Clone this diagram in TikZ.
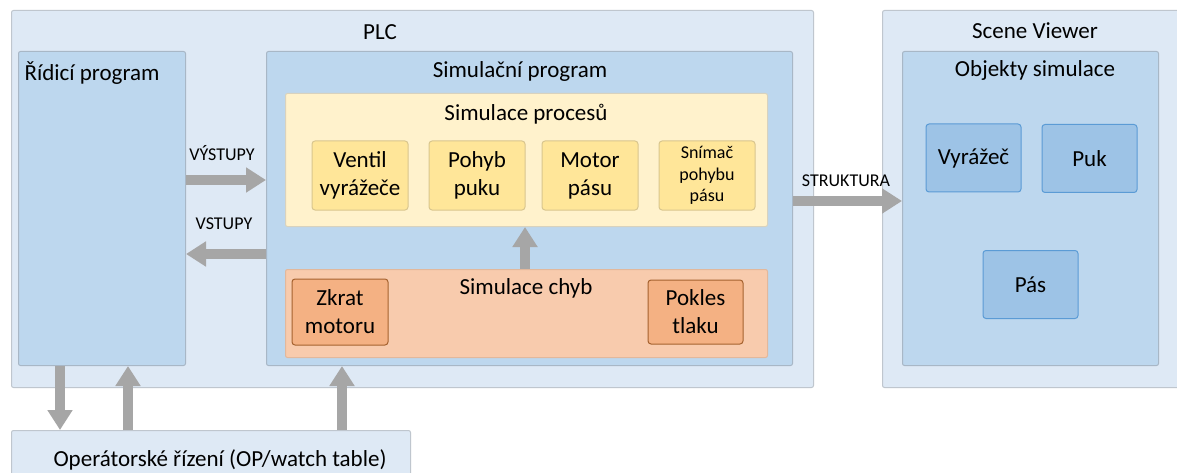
\documentclass[tikz,border=0pt]{standalone}
\usepackage{fontspec}
\setmainfont{Carlito}
\usetikzlibrary{arrows.meta}
\definecolor{outerfill}{HTML}{DEE9F5}
\definecolor{outerdraw}{HTML}{BFC6CE}
\definecolor{midfill}{HTML}{BDD7EE}
\definecolor{middraw}{HTML}{A8B7C6}
\definecolor{yelfill}{HTML}{FFF2CC}
\definecolor{yeldraw}{HTML}{D8D2BE}
\definecolor{yelbox}{HTML}{FFE699}
\definecolor{yelboxdraw}{HTML}{D9C68E}
\definecolor{orfill}{HTML}{F8CBAD}
\definecolor{ordraw}{HTML}{E2B89C}
\definecolor{orbox}{HTML}{F4B183}
\definecolor{orboxdraw}{HTML}{A5622F}
\definecolor{objfill}{HTML}{9DC3E6}
\definecolor{objdraw}{HTML}{5B9BD5}
\definecolor{arrowgray}{HTML}{A6A6A6}
\tikzset{
  box/.style={draw, line width=1pt, rounded corners=2pt, anchor=north west, inner sep=0pt},
  outerbox/.style={box, fill=outerfill, draw=outerdraw},
  midbox/.style={box, fill=midfill, draw=middraw},
  procbox/.style={box, fill=yelfill, draw=yeldraw},
  errbox/.style={box, fill=orfill, draw=ordraw},
  bigfont/.style={font=\fontsize{23}{28}\selectfont},
  itembox/.style={draw=yelboxdraw, fill=yelbox, line width=1pt, rounded corners=3pt, inner sep=0pt,
    minimum width=96pt, minimum height=69pt, align=center, bigfont},
  faultbox/.style={draw=orboxdraw, fill=orbox, line width=1pt, rounded corners=3pt, inner sep=0pt,
    minimum width=96pt, minimum height=66pt, align=center, bigfont},
  objbox/.style={draw=objdraw, fill=objfill, line width=1pt, rounded corners=3pt, inner sep=0pt,
    minimum width=95pt, minimum height=68pt, bigfont},
  title/.style={bigfont, inner sep=0pt},
  small/.style={font=\fontsize{18}{22}\selectfont, inner sep=0pt},
  flow/.style={draw=arrowgray, line width=10pt,
    -{Triangle[width=24pt,length=20pt,fill=arrowgray]}},
}
\begin{document}
\begin{tikzpicture}[x=1pt,y=-1pt]
\useasboundingbox[fill=white] (0,0) rectangle (1177,473);

% PLC and its blocks
\node[outerbox, minimum width=802pt, minimum height=377pt] (plc) at (11,10) {};
\node[title] (plcl) at (380,32) {PLC};
\node[midbox, minimum width=167pt, minimum height=314pt] (rid) at (18,51) {};
\node[title] (ridl) at (92,73) {Řídicí program};
\node[midbox, minimum width=526pt, minimum height=314pt] (sim) at (266,51) {};
\node[title] (siml) at (520,71) {Simulační program};

% process simulation
\node[procbox, minimum width=482pt, minimum height=133pt] (proc) at (285,93) {};
\node[title] (procl) at (526,114) {Simulace procesů};
\node[itembox] (ventil) at (360,175.5) {Ventil\\vyrážeče};
\node[itembox] (pohyb) at (477,175.5) {Pohyb\\puku};
\node[itembox] (motor) at (590,175.5) {Motor\\pásu};
\node[itembox, font=\fontsize{18}{21.5}\selectfont] (snimac) at (707,175.5) {Snímač\\pohybu\\pásu};

% fault simulation
\node[errbox, minimum width=482pt, minimum height=88pt] (err) at (285,269) {};
\node[title] (errl) at (526,288) {Simulace chyb};
\node[faultbox] (zkrat) at (340,312) {Zkrat\\motoru};
\node[faultbox, minimum width=95pt, minimum height=64pt] (pokles) at (695.5,312) {Pokles\\tlaku};

% Scene Viewer
\node[outerbox, minimum width=310pt, minimum height=377pt] (scene) at (882,10) {};
\node[title] (scenel) at (1035,31) {Scene Viewer};
\node[midbox, minimum width=256pt, minimum height=314pt] (obj) at (902,51) {};
\node[title] (objl) at (1035,70) {Objekty simulace};
\node[objbox] (vyr) at (973.5,158) {Vyrážeč};
\node[objbox] (puk) at (1089.5,158.5) {Puk};
\node[objbox] (pas) at (1030.5,284.5) {Pás};

% operator panel
\node[outerbox, minimum width=399pt, minimum height=60pt] (op) at (11,430) {};
\node[title] (opl) at (220,460) {Operátorské řízení (OP/watch table)};

% connectors
\coordinate (yout) at (0,180);
\coordinate (yin) at (0,254);
\coordinate (ystr) at (0,201);
\coordinate (xa) at (60,0);
\coordinate (xb) at (128,0);
\coordinate (xc) at (342,0);
\coordinate (xd) at (525,0);

\draw[flow] (rid.east |- yout) -- (sim.west |- yout);
\node[small] (outl) at (222,153) {VÝSTUPY};
\draw[flow] (sim.west |- yin) -- (rid.east |- yin);
\node[small] (inl) at (224,224) {VSTUPY};
\draw[flow] (sim.east |- ystr) -- (obj.west |- ystr);
\node[small] (strl) at (846,181) {STRUKTURA};
\draw[flow] (err.north -| xd) -- (proc.south -| xd);

\draw[flow] (rid.south -| xa) -- (op.north -| xa);
\draw[flow] (op.north -| xb) -- (rid.south -| xb);
\draw[flow] (op.north -| xc) -- (sim.south -| xc);
\end{tikzpicture}
\end{document}
